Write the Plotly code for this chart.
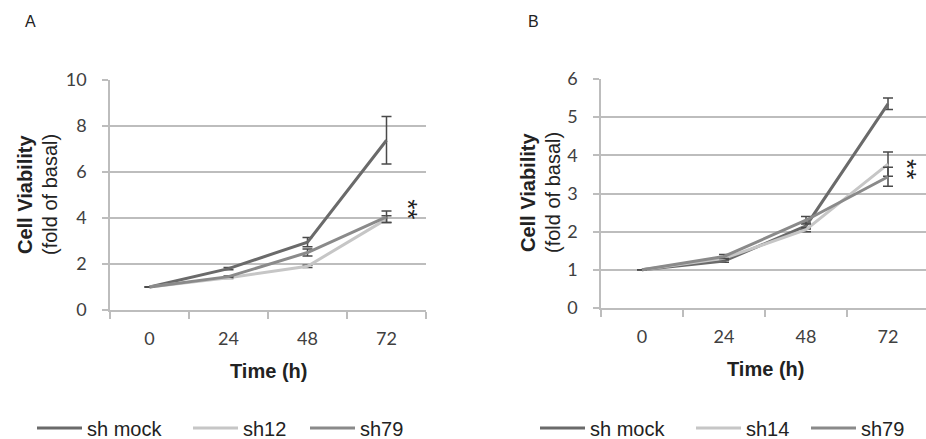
import plotly.graph_objects as go

# ---- data ----
time_labels = ["0", "24", "48", "72"]

a_mock = [1.0, 1.8, 2.95, 7.38]
a_mock_err = [0.0, 0.05, 0.2, 1.03]
a_sh12 = [1.0, 1.4, 1.9, 3.95]
a_sh12_err = [0.0, 0.03, 0.05, 0.15]
a_sh79 = [1.0, 1.45, 2.5, 4.05]
a_sh79_err = [0.0, 0.03, 0.15, 0.25]

b_mock = [1.0, 1.23, 2.15, 5.35]
b_mock_err = [0.0, 0.03, 0.08, 0.15]
b_sh14 = [1.0, 1.3, 2.05, 3.77]
b_sh14_err = [0.0, 0.03, 0.05, 0.32]
b_sh79 = [1.0, 1.35, 2.3, 3.44]
b_sh79_err = [0.0, 0.05, 0.1, 0.25]

C_MOCK = "#6a6a6a"
C_LIGHT = "#c6c6c6"
C_MID = "#8a8a8a"
ERR_C = "#4a4a4a"
GRID_C = "#bdbdbd"

W, H = 926, 439

fig = go.Figure()

# legend entry left positions (px) for each trace
legend_x = [32, 188, 305, 535, 691, 806]
legend_ids = ["legend", "legend2", "legend3", "legend4", "legend5", "legend6"]

traces = [
    ("sh mock", a_mock, a_mock_err, C_MOCK, "x", "y"),
    ("sh12", a_sh12, a_sh12_err, C_LIGHT, "x", "y"),
    ("sh79", a_sh79, a_sh79_err, C_MID, "x", "y"),
    ("sh mock", b_mock, b_mock_err, C_MOCK, "x2", "y2"),
    ("sh14", b_sh14, b_sh14_err, C_LIGHT, "x2", "y2"),
    ("sh79", b_sh79, b_sh79_err, C_MID, "x2", "y2"),
]

for (name, y, err, color, xa, ya), lid in zip(traces, legend_ids):
    fig.add_trace(go.Scatter(
        x=time_labels, y=y, name=name, mode="lines",
        line=dict(color=color, width=3),
        error_y=dict(type="data", array=err, visible=True, color=ERR_C,
                     thickness=1.5, width=5),
        xaxis=xa, yaxis=ya, legend=lid,
    ))

tickfont = dict(family="Lato, Open Sans, sans-serif", size=18, color="#404040")

xcommon = dict(type="category", tickson="boundaries", ticks="outside", ticklen=7,
               tickcolor=GRID_C, tickwidth=1.5, showline=True, linecolor=GRID_C,
               linewidth=1.5, showgrid=False, zeroline=False, tickfont=tickfont,
               ticklabelstandoff=12)
ycommon = dict(ticks="outside", ticklen=6, tickcolor=GRID_C, tickwidth=1.5,
               showline=True, linecolor=GRID_C, linewidth=1.5, showgrid=True,
               gridcolor=GRID_C, gridwidth=1.5, zeroline=False, tickfont=tickfont,
               ticklabelstandoff=12)

legfont = dict(family="Liberation Sans, Arial, sans-serif", size=20, color="#222")

layout_legends = {}
for lid, lx in zip(legend_ids, legend_x):
    layout_legends[lid] = dict(orientation="h", x=lx / W, y=1 - 428 / H, xanchor="left",
                               yanchor="middle", font=legfont, itemwidth=45,
                               bgcolor="rgba(0,0,0,0)")

fig.update_layout(
    width=W, height=H,
    margin=dict(l=0, r=0, t=0, b=0, autoexpand=False),
    paper_bgcolor="white", plot_bgcolor="white",
    showlegend=True,
    xaxis=dict(domain=[110 / W, 426 / W], range=[-0.5, 3.5], anchor="y", **xcommon),
    yaxis=dict(domain=[1 - 310 / H, 1 - 80 / H], range=[0, 10], dtick=2, anchor="x", **ycommon),
    xaxis2=dict(domain=[601 / W, 1.0], range=[-0.5, (926 - 642) / 82], anchor="y2", **xcommon),
    yaxis2=dict(domain=[1 - 308 / H, 1 - 79 / H], range=[0, 6], dtick=1, anchor="x2", **ycommon),
    **layout_legends,
)

title_font_b = dict(family="Liberation Sans, Arial, sans-serif", size=20, color="#222")
ann = []


def paper_ann(text, px, py, font, angle=0):
    ann.append(dict(text=text, x=px / W, y=1 - py / H, xref="paper", yref="paper",
                    xanchor="center", yanchor="middle", showarrow=False,
                    textangle=angle, font=font))


letter_font = dict(family="Liberation Sans, Arial, sans-serif", size=16, color="#222")
paper_ann("A", 30, 22, letter_font)
paper_ann("B", 533, 22, letter_font)
for xc1, xc2, yc in [(25, 50, 195), (528, 553, 193)]:
    paper_ann("<b>Cell Viability</b>", xc1, yc, title_font_b, -90)
    paper_ann("(fold of basal)", xc2, yc, title_font_b, -90)
paper_ann("<b>Time (h)</b>", 268, 371, title_font_b)
paper_ann("<b>Time (h)</b>", 765, 369, title_font_b)

# significance marks
star_font = dict(family="Liberation Sans, Arial, sans-serif", size=26, color="#222")
ann.append(dict(text="**", x=3.28, y=4.4, xref="x", yref="y", showarrow=False, textangle=90,
                xanchor="center", yanchor="middle", font=star_font))
ann.append(dict(text="**", x=3.24, y=3.65, xref="x2", yref="y2", showarrow=False, textangle=90,
                xanchor="center", yanchor="middle", font=star_font))
fig.update_layout(annotations=ann)

fig.write_html("out.html", config={"displayModeBar": False},
               post_script="document.body.style.margin='0';")
